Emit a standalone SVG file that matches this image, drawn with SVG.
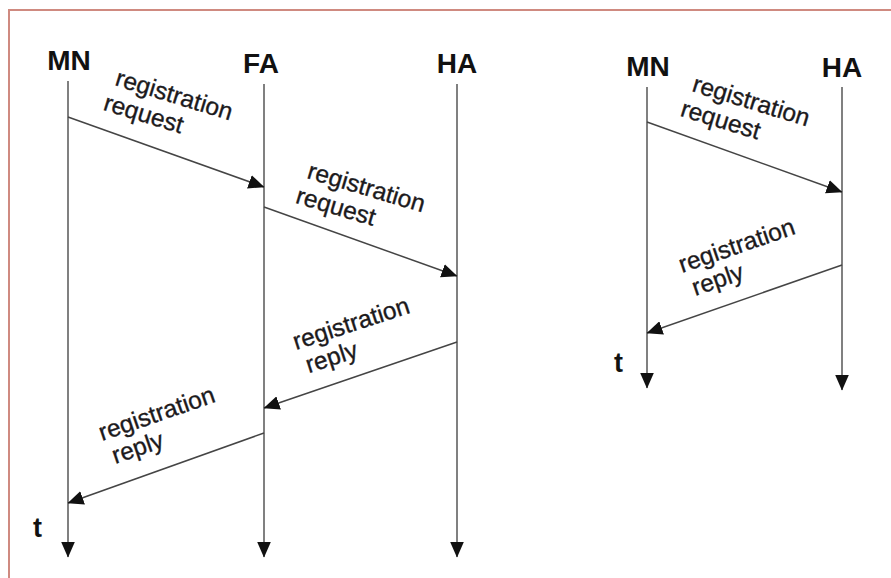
<svg xmlns="http://www.w3.org/2000/svg" width="891" height="578" viewBox="0 0 891 578">
<defs>
<marker id="ah" viewBox="0 0 16 14" refX="15.5" refY="7" markerWidth="16" markerHeight="14" markerUnits="userSpaceOnUse" orient="auto">
<path d="M0,0 L16,7 L0,14 Z" fill="#111"/>
</marker>
</defs>
<style>
.frame{fill:none;stroke:#cf8a80;stroke-width:2}
.life{stroke:#6a6a6a;stroke-width:1.7;fill:none}
.msg{stroke:#454545;stroke-width:1.5;fill:none}
.hdr{font-family:"Liberation Sans",Arial,sans-serif;font-size:28px;font-weight:bold;fill:#111;text-anchor:middle}
.lbl{font-family:"Liberation Sans",Arial,sans-serif;font-size:24.5px;fill:#1c1a1c;stroke:#1c1a1c;stroke-width:0.35}
.t{font-family:"Liberation Sans",Arial,sans-serif;font-size:27px;font-weight:bold;fill:#111}
</style>
<rect width="891" height="578" fill="#fff"/>
<rect class="frame" x="9" y="10" width="900" height="600"/>

<g id="left-MN">
<text class="hdr" x="69" y="70">MN</text>
<line class="life" x1="68" y1="81" x2="68" y2="557" marker-end="url(#ah)"/>
<text class="t" x="33" y="537">t</text>
</g>
<g id="left-FA">
<text class="hdr" x="261" y="73">FA</text>
<line class="life" x1="264" y1="84" x2="264" y2="557" marker-end="url(#ah)"/>
</g>
<g id="left-HA">
<text class="hdr" x="457" y="73">HA</text>
<line class="life" x1="457" y1="84" x2="457" y2="557" marker-end="url(#ah)"/>
</g>
<g id="right-MN">
<text class="hdr" x="648" y="76">MN</text>
<line class="life" x1="647" y1="87" x2="647" y2="388" marker-end="url(#ah)"/>
<text class="t" x="614" y="372">t</text>
</g>
<g id="right-HA">
<text class="hdr" x="842" y="77">HA</text>
<line class="life" x1="842" y1="87" x2="842" y2="390" marker-end="url(#ah)"/>
</g>

<g id="connectors">
<line class="msg" x1="68" y1="117" x2="264" y2="187" marker-end="url(#ah)"/>
<line class="msg" x1="264" y1="207" x2="457" y2="276" marker-end="url(#ah)"/>
<line class="msg" x1="457" y1="342" x2="264" y2="408" marker-end="url(#ah)"/>
<line class="msg" x1="264" y1="433" x2="68" y2="503" marker-end="url(#ah)"/>
<line class="msg" x1="647" y1="122" x2="842" y2="192" marker-end="url(#ah)"/>
<line class="msg" x1="842" y1="265" x2="647" y2="333" marker-end="url(#ah)"/>
</g>

<g id="labels">
<text class="lbl" transform="translate(114,85) rotate(17)"><tspan x="0" dy="0">registration</tspan><tspan x="-4" dy="27">request</tspan></text>
<text class="lbl" transform="translate(306,178) rotate(16.5)"><tspan x="0" dy="0">registration</tspan><tspan x="-4" dy="27">request</tspan></text>
<text class="lbl" transform="translate(296,350) rotate(-18)"><tspan x="0" dy="0">registration</tspan><tspan x="5" dy="26">reply</tspan></text>
<text class="lbl" transform="translate(102,441) rotate(-19)"><tspan x="0" dy="0">registration</tspan><tspan x="5" dy="26">reply</tspan></text>
<text class="lbl" transform="translate(691,91) rotate(17)"><tspan x="0" dy="0">registration</tspan><tspan x="-4" dy="27">request</tspan></text>
<text class="lbl" transform="translate(682,273) rotate(-19)"><tspan x="0" dy="0">registration</tspan><tspan x="5" dy="26">reply</tspan></text>
</g>
</svg>
